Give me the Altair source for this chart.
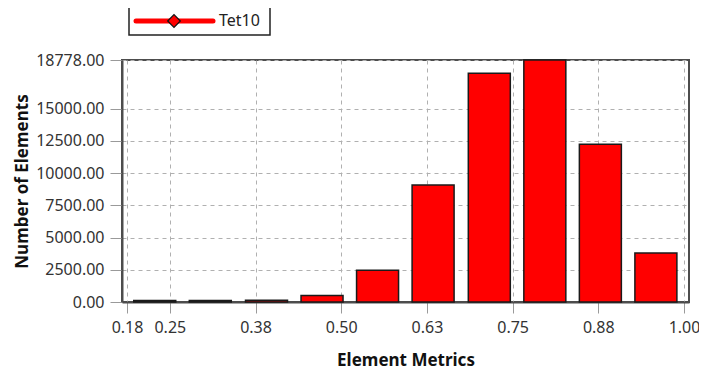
import altair as alt
import pandas as pd

# Data
bin_centers = [0.228, 0.309, 0.391, 0.472, 0.553, 0.634, 0.716, 0.797, 0.878, 0.959]
counts = [120, 110, 130, 510, 2460, 9070, 17750, 18778, 12250, 3810]
x_ticks = [0.1875, 0.25, 0.375, 0.5, 0.625, 0.75, 0.875, 1.0]
x_tick_labels = ["0.18", "0.25", "0.38", "0.50", "0.63", "0.75", "0.88", "1.00"]
y_ticks = [0, 2500, 5000, 7500, 10000, 12500, 15000, 18778]
series_name = "Tet10"

df = pd.DataFrame({"center": bin_centers, "count": counts})

FONT = "Noto Sans"
label_expr = "[" + ",".join("'%s'" % s for s in x_tick_labels) + "][indexof([" + \
    ",".join(repr(v) for v in x_ticks) + "], datum.value)]"

bars = alt.Chart(df).mark_bar(
    size=42, color="#ff0000", stroke="#1a1a1a", strokeWidth=1.5
).encode(
    x=alt.X("center:Q",
            scale=alt.Scale(domain=[x_ticks[0], x_ticks[-1]], nice=False, zero=False),
            axis=alt.Axis(values=x_ticks, labelExpr=label_expr, title="Element Metrics",
                          tickSize=11, titlePadding=17, labelPadding=6)),
    y=alt.Y("count:Q",
            scale=alt.Scale(domain=[0, y_ticks[-1]], nice=False),
            axis=alt.Axis(values=y_ticks, format=".2f", title="Number of Elements",
                          tickSize=12, titlePadding=4, labelPadding=6)),
)

one = alt.Data(values=[{"name": series_name}])
legend_box = alt.Chart(one).mark_rect(fill="white", stroke="#222", strokeWidth=1.5).encode(
    x=alt.value(7), x2=alt.value(148), y=alt.value(-53), y2=alt.value(-25))
legend_line = alt.Chart(one).mark_rule(color="#ff0000", strokeWidth=5, strokeCap="round").encode(
    x=alt.value(14), x2=alt.value(91), y=alt.value(-39))
legend_pt = alt.Chart(one).mark_point(shape="diamond", filled=True, fill="#ff0000",
                                      stroke="#111", strokeWidth=1.2, opacity=1, size=160).encode(
    x=alt.value(52), y=alt.value(-39))
legend_txt = alt.Chart(one).mark_text(align="left", baseline="middle", font=FONT,
                                      fontSize=16, color="#222").encode(
    x=alt.value(97), y=alt.value(-39), text="name:N")

chart = alt.layer(bars, legend_box, legend_line, legend_pt, legend_txt).properties(
    width=567, height=242,
    autosize="none",
    padding={"left": 114, "top": 52, "right": 10, "bottom": 67},
).configure_view(
    stroke="#4d4d4d", strokeWidth=2
).configure_axis(
    grid=True, gridDash=[4, 4], gridColor="#b0b0b0", gridWidth=1,
    tickColor="#9a9a9a", tickWidth=1,
    domainColor="#4d4d4d", domainWidth=2,
    labelFont=FONT, labelFontSize=16, labelColor="#333",
    titleFont=FONT, titleFontSize=17, titleFontWeight="bold", titleColor="#111",
)

chart.save("out.html", embed_options={"renderer": "svg", "actions": False})
